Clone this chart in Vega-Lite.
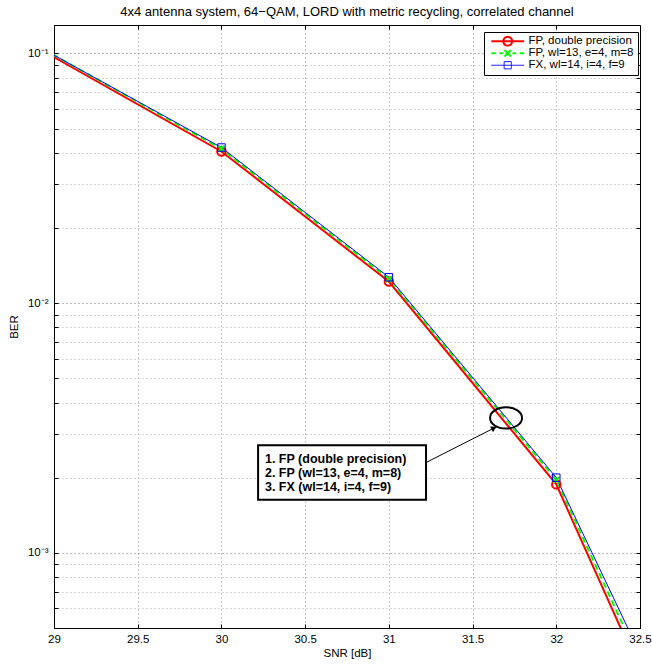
{
  "$schema": "https://vega.github.io/schema/vega-lite/v6.json",
  "width": 586,
  "height": 603,
  "autosize": "none",
  "padding": {"left": 54, "top": 25, "right": 12, "bottom": 36},
  "title": {"text": "4x4 antenna system, 64−QAM, LORD with metric recycling, correlated channel", "fontSize": 13, "fontWeight": "normal", "font": "Liberation Sans", "color": "black", "offset": 6, "anchor": "middle"},
  "config": {
    "view": {"stroke": null},
    "font": "Liberation Sans",
    "axis": {"domainColor": "black", "domainWidth": 1, "tickColor": "black", "labelColor": "black", "titleColor": "black", "labelFont": "Liberation Sans", "titleFont": "Liberation Sans", "labelFontSize": 11.5, "titleFontSize": 11.5, "titleFontWeight": "normal", "labelOverlap": false, "labelBound": false, "labelFlush": false}
  },
  "datasets": {
    "curves": [
      {"snr": 28, "ber": 0.2304, "series": "FP, double precision"},
      {"snr": 30, "ber": 0.0405, "series": "FP, double precision"},
      {"snr": 31, "ber": 0.0122, "series": "FP, double precision"},
      {"snr": 32, "ber": 0.00188, "series": "FP, double precision"},
      {"snr": 33, "ber": 0.00006, "series": "FP, double precision"},
      {"snr": 28, "ber": 0.2333, "series": "FP, wl=13, e=4, m=8"},
      {"snr": 30, "ber": 0.0415, "series": "FP, wl=13, e=4, m=8"},
      {"snr": 31, "ber": 0.0125, "series": "FP, wl=13, e=4, m=8"},
      {"snr": 32, "ber": 0.00196, "series": "FP, wl=13, e=4, m=8"},
      {"snr": 33, "ber": 0.000068, "series": "FP, wl=13, e=4, m=8"},
      {"snr": 28, "ber": 0.2305, "series": "FX, wl=14, i=4, f=9"},
      {"snr": 30, "ber": 0.042, "series": "FX, wl=14, i=4, f=9"},
      {"snr": 31, "ber": 0.0127, "series": "FX, wl=14, i=4, f=9"},
      {"snr": 32, "ber": 0.0020, "series": "FX, wl=14, i=4, f=9"},
      {"snr": 33, "ber": 0.000078, "series": "FX, wl=14, i=4, f=9"}
    ],
    "box": [{"x1": 30.219, "x2": 31.222, "y1": 0.0027, "y2": 0.00163}],
    "notes": [
      {"x": 30.26, "y": 0.00238, "label": "1. FP (double precision)"},
      {"x": 30.26, "y": 0.00209, "label": "2. FP (wl=13, e=4, m=8)"},
      {"x": 30.26, "y": 0.00184, "label": "3. FX (wl=14, i=4, f=9)"}
    ],
    "arrow": [{"x1": 31.228, "y1": 0.00231, "x2": 31.628, "y2": 0.00316}],
    "ellipse": [{"x": 31.70, "y": 0.00347}]
  },
  "resolve": {"axis": {"x": "independent", "y": "independent"}},
  "layer": [
    {
      "data": {"name": "curves"},
      "transform": [{"filter": "datum.series === 'FP, double precision'"}],
      "mark": {"type": "line", "clip": true, "strokeWidth": 2},
      "encoding": {
        "x": {"field": "snr", "type": "quantitative", "title": "SNR [dB]",
          "scale": {"domain": [29, 32.5], "nice": false, "zero": false},
          "axis": {"orient": "bottom", "values": [29, 29.5, 30, 30.5, 31, 31.5, 32, 32.5], "labelExpr": "'' + datum.value", "tickSize": -4, "labelPadding": 9, "grid": true, "gridColor": "#999999", "gridDash": [1, 3], "titlePadding": 3}},
        "y": {"field": "ber", "type": "quantitative", "title": "BER",
          "scale": {"type": "log", "domain": [0.0005, 0.13], "nice": false},
          "axis": {"orient": "left", "values": [0.0005, 0.0006, 0.0007, 0.0008, 0.0009, 0.001, 0.002, 0.003, 0.004, 0.005, 0.006, 0.007, 0.008, 0.009, 0.01, 0.02, 0.03, 0.04, 0.05, 0.06, 0.07, 0.08, 0.09, 0.1],
            "labelExpr": "abs(datum.value - 0.1) < 1e-9 ? '10⁻¹' : abs(datum.value - 0.01) < 1e-10 ? '10⁻²' : abs(datum.value - 0.001) < 1e-11 ? '10⁻³' : ''",
            "tickSize": -4, "labelPadding": 10, "grid": true,
            "gridColor": {"condition": {"test": "abs(datum.value - 0.1) < 1e-9 || abs(datum.value - 0.01) < 1e-10 || abs(datum.value - 0.001) < 1e-11", "value": "#777777"}, "value": "#aaaaaa"},
            "gridDash": [1, 3], "titlePadding": 8}},
        "color": {"field": "series", "type": "nominal",
          "scale": {"domain": ["FP, double precision", "FP, wl=13, e=4, m=8", "FX, wl=14, i=4, f=9"], "range": ["#ff0000", "#00ff00", "#0000ff"]},
          "legend": {"title": null, "orient": "none", "legendX": 430, "legendY": 7, "strokeColor": "black", "fillColor": "white", "padding": 4, "labelFontSize": 11.5, "labelFont": "Liberation Sans", "labelColor": "black", "symbolSize": 64, "symbolOffset": 14, "labelOffset": 15, "rowPadding": 0, "clipHeight": 10.5, "symbolStrokeWidth": 2,
            "encode": {"symbols": {"update": {
              "shape": {"signal": "datum.value === 'FP, double precision' ? 'M-4.1,0H4.1M1.1,0A1.1,1.1 0 1,1 -1.1,0A1.1,1.1 0 1,1 1.1,0' : datum.value === 'FX, wl=14, i=4, f=9' ? 'M-4.1,0H4.1M-0.9,-0.9H0.9V0.9H-0.9Z' : 'M-4.1,0H-3M-2.1,0H-1.2M1.2,0H2.1M3,0H4.1M-0.8,-0.8L0.8,0.8M-0.8,0.8L0.8,-0.8'"},
              "strokeWidth": {"signal": "datum.value === 'FX, wl=14, i=4, f=9' ? 1 : 2"},
              "strokeDash": {"value": [1, 0]},
              "fill": {"value": "transparent"},
              "size": {"value": 64}
            }}}}}
      }
    },
    {
      "data": {"name": "curves"},
      "transform": [{"filter": "datum.series === 'FP, wl=13, e=4, m=8'"}],
      "mark": {"type": "line", "clip": true, "strokeWidth": 2, "strokeDash": [6, 4]},
      "encoding": {
        "x": {"field": "snr", "type": "quantitative", "axis": null},
        "y": {"field": "ber", "type": "quantitative", "axis": null},
        "color": {"field": "series", "type": "nominal"}
      }
    },
    {
      "data": {"name": "curves"},
      "transform": [{"filter": "datum.series === 'FX, wl=14, i=4, f=9'"}],
      "mark": {"type": "line", "clip": true, "strokeWidth": 1},
      "encoding": {
        "x": {"field": "snr", "type": "quantitative", "axis": null},
        "y": {"field": "ber", "type": "quantitative", "axis": null},
        "color": {"field": "series", "type": "nominal"}
      }
    },
    {
      "data": {"name": "curves"},
      "transform": [{"filter": "datum.series === 'FP, double precision'"}],
      "mark": {"type": "point", "clip": true, "shape": "circle", "filled": false, "stroke": "#ff0000", "strokeWidth": 2, "size": 72, "opacity": 1},
      "encoding": {
        "x": {"field": "snr", "type": "quantitative", "axis": null},
        "y": {"field": "ber", "type": "quantitative", "axis": null}
      }
    },
    {
      "data": {"name": "curves"},
      "transform": [{"filter": "datum.series === 'FP, wl=13, e=4, m=8'"}],
      "mark": {"type": "point", "clip": true, "shape": "M-1,-1L1,1M-1,1L1,-1", "filled": false, "stroke": "#00ff00", "strokeWidth": 2, "size": 36, "opacity": 1},
      "encoding": {
        "x": {"field": "snr", "type": "quantitative", "axis": null},
        "y": {"field": "ber", "type": "quantitative", "axis": null}
      }
    },
    {
      "data": {"name": "curves"},
      "transform": [{"filter": "datum.series === 'FX, wl=14, i=4, f=9'"}],
      "mark": {"type": "point", "clip": true, "shape": "square", "filled": false, "stroke": "#0000ff", "strokeWidth": 1, "size": 56, "opacity": 1},
      "encoding": {
        "x": {"field": "snr", "type": "quantitative",
          "axis": {"orient": "top", "values": [29, 29.5, 30, 30.5, 31, 31.5, 32, 32.5], "tickSize": -4, "labels": false, "grid": false, "title": null}},
        "y": {"field": "ber", "type": "quantitative",
          "axis": {"orient": "right", "values": [0.0005, 0.0006, 0.0007, 0.0008, 0.0009, 0.001, 0.002, 0.003, 0.004, 0.005, 0.006, 0.007, 0.008, 0.009, 0.01, 0.02, 0.03, 0.04, 0.05, 0.06, 0.07, 0.08, 0.09, 0.1], "tickSize": -4, "labels": false, "grid": false, "title": null}}
      }
    },
    {
      "data": {"name": "arrow"},
      "mark": {"type": "rule", "color": "black", "strokeWidth": 1},
      "encoding": {
        "x": {"field": "x1", "type": "quantitative", "axis": null},
        "y": {"field": "y1", "type": "quantitative", "axis": null},
        "x2": {"field": "x2"},
        "y2": {"field": "y2"}
      }
    },
    {
      "data": {"name": "arrow"},
      "mark": {"type": "point", "shape": "triangle-up", "filled": true, "color": "black", "size": 40, "angle": 63, "opacity": 1},
      "encoding": {
        "x": {"field": "x2", "type": "quantitative", "axis": null},
        "y": {"field": "y2", "type": "quantitative", "axis": null}
      }
    },
    {
      "data": {"name": "ellipse"},
      "mark": {"type": "point", "shape": "M-1.5,0A1.5,1 0 1,1 1.5,0A1.5,1 0 1,1 -1.5,0Z", "filled": false, "stroke": "black", "strokeWidth": 2, "size": 455, "opacity": 1},
      "encoding": {
        "x": {"field": "x", "type": "quantitative", "axis": null},
        "y": {"field": "y", "type": "quantitative", "axis": null}
      }
    },
    {
      "data": {"name": "box"},
      "mark": {"type": "rect", "fill": "white", "stroke": "black", "strokeWidth": 2},
      "encoding": {
        "x": {"field": "x1", "type": "quantitative", "axis": null},
        "x2": {"field": "x2"},
        "y": {"field": "y1", "type": "quantitative", "axis": null},
        "y2": {"field": "y2"}
      }
    },
    {
      "data": {"name": "notes"},
      "mark": {"type": "text", "align": "left", "baseline": "middle", "fontWeight": "bold", "fontSize": 12.5, "font": "Liberation Sans", "color": "black"},
      "encoding": {
        "x": {"field": "x", "type": "quantitative", "axis": null},
        "y": {"field": "y", "type": "quantitative", "axis": null},
        "text": {"field": "label"}
      }
    }
  ]
}
